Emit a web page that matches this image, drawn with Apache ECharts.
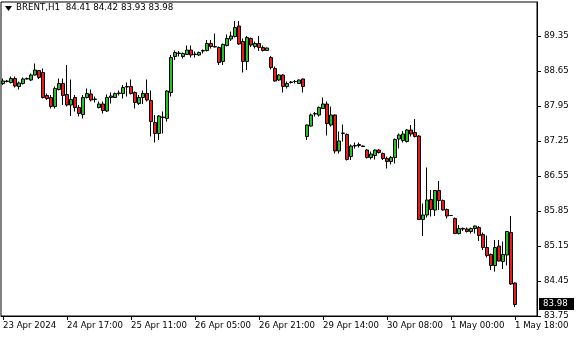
<!DOCTYPE html>
<html>
<head>
<meta charset="utf-8">
<script src="https://cdn.jsdelivr.net/npm/echarts@6/dist/echarts.min.js"></script>
<style>html,body{margin:0;padding:0;background:#fff}#c{width:580px;height:340px}</style>
</head>
<body>
<div id="c"></div>
<script>
const symbolTitle = 'BRENT,H1  84.41 84.42 83.93 83.98';
const xTickLabels = ['23 Apr 2024','24 Apr 17:00','25 Apr 11:00','26 Apr 05:00','26 Apr 21:00','29 Apr 14:00','30 Apr 08:00','1 May 00:00','1 May 18:00'];
const yTickValues = [83.75,84.45,85.15,85.85,86.55,87.25,87.95,88.65,89.35];
const opens  = [88.40,88.44,88.42,88.50,88.34,88.40,88.49,88.47,88.57,88.66,88.62,88.16,88.12,87.94,88.28,88.40,88.18,87.97,88.12,87.92,87.78,88.12,88.19,88.08,87.92,87.99,87.85,88.12,88.12,88.20,88.20,88.33,88.34,88.22,88.00,88.12,88.20,88.06,87.62,87.40,87.72,87.70,88.22,88.94,89.00,88.94,88.98,89.07,88.98,88.97,89.05,89.06,89.20,89.13,89.12,88.84,89.16,89.29,89.34,89.55,89.24,88.84,89.30,89.14,89.20,89.12,89.06,88.92,88.70,88.47,88.57,88.34,88.42,88.44,88.40,88.49,87.34,87.55,87.79,87.77,87.90,87.99,87.57,87.77,87.05,87.40,87.38,86.94,87.15,87.16,87.15,87.07,86.92,86.96,87.07,87.00,86.90,86.84,86.92,87.29,87.26,87.24,87.47,87.42,87.35,85.68,85.77,86.08,85.87,86.26,86.06,85.88,85.76,85.70,85.40,85.49,85.49,85.44,85.50,85.52,85.38,85.12,84.98,84.76,85.15,84.84,84.97,85.42,84.41];
const highs  = [88.50,88.47,88.54,88.54,88.44,88.52,88.52,88.60,88.80,88.67,88.70,88.20,88.17,88.34,88.50,88.50,88.77,88.48,88.17,87.97,88.17,88.30,88.28,88.14,88.04,88.04,88.18,88.22,88.22,88.26,88.37,88.42,88.48,88.24,88.17,88.26,88.48,88.26,87.77,87.77,87.84,88.27,88.97,89.06,89.05,89.02,89.16,89.16,89.04,89.04,89.08,89.27,89.27,89.40,89.14,89.20,89.38,89.44,89.65,89.65,89.30,89.35,89.32,89.24,89.35,89.16,89.12,88.95,88.74,88.59,88.59,88.44,88.45,88.47,88.48,88.50,87.58,87.80,87.83,87.94,88.12,88.04,87.94,87.78,87.44,87.58,87.40,87.18,87.22,87.22,87.16,87.09,87.04,87.08,87.09,87.02,86.94,86.95,87.30,87.40,87.45,87.49,87.57,87.69,87.37,86.00,86.72,86.27,86.27,86.45,86.08,85.90,85.77,85.72,85.57,85.52,85.52,85.52,85.56,85.55,85.42,85.36,85.00,85.27,85.27,85.24,85.45,85.75,84.42];
const lows   = [88.37,88.42,88.40,88.32,88.28,88.38,88.48,88.45,88.56,88.49,88.10,88.07,87.90,87.90,88.26,87.97,87.94,87.75,87.84,87.74,87.70,88.10,88.04,88.02,87.90,87.80,87.83,88.00,88.11,88.16,88.10,88.14,88.18,87.90,87.97,87.99,88.04,87.34,87.22,87.27,87.40,87.64,88.14,88.87,88.94,88.90,88.97,88.92,88.92,88.95,89.00,89.04,89.10,89.12,88.77,88.77,89.14,89.25,89.32,89.17,88.62,88.67,89.13,89.10,89.05,89.04,89.05,88.68,88.44,88.45,88.22,88.30,88.40,88.40,88.39,88.22,87.27,87.54,87.74,87.74,87.89,87.36,87.54,87.00,87.00,87.24,86.86,86.87,87.10,87.12,87.13,86.90,86.88,86.88,87.00,86.87,86.70,86.78,86.80,87.10,87.22,87.22,87.34,87.32,85.67,85.35,85.72,85.74,85.75,85.87,85.86,85.70,85.75,85.39,85.38,85.45,85.42,85.40,85.40,85.25,85.07,84.92,84.67,84.64,84.84,84.69,84.76,84.37,83.93];
const closes = [88.45,88.45,88.50,88.35,88.41,88.49,88.50,88.57,88.67,88.52,88.12,88.10,87.94,88.30,88.40,88.16,87.97,88.08,87.92,87.80,88.12,88.20,88.07,88.09,87.99,87.86,88.12,88.15,88.20,88.21,88.32,88.34,88.20,88.02,88.12,88.20,88.07,87.64,87.40,87.75,87.73,88.25,88.92,89.02,89.01,89.00,89.07,88.97,88.99,89.02,89.06,89.20,89.14,89.14,88.82,89.18,89.30,89.35,89.52,89.19,88.84,89.32,89.17,89.20,89.12,89.06,89.11,88.72,88.45,88.57,88.34,88.40,88.43,88.44,88.47,88.34,87.57,87.77,87.80,87.92,87.99,87.60,87.77,87.05,87.25,87.41,86.88,87.15,87.16,87.18,87.14,86.92,86.99,87.07,87.02,86.90,86.84,86.92,87.28,87.37,87.39,87.47,87.39,87.34,85.68,85.77,86.07,85.88,86.26,86.06,85.87,85.75,85.76,85.40,85.50,85.50,85.44,85.50,85.55,85.36,85.12,84.96,84.76,85.12,84.85,84.98,85.44,84.39,83.98];

const SLOTS = 134;      // bars plus the empty right margin
const TICK_STEP = 16;   // bars between time labels
const cats = [];
for (let i = 0; i < SLOTS; i++) cats.push(String(i));
const candles = opens.map((o, i) => [o, closes[i], lows[i], highs[i]]);

const FONT = 'DejaVu Sans';
const chart = echarts.init(document.getElementById('c'), null, {renderer: 'canvas'});
const showTick = (idx) => idx % TICK_STEP === 0 && idx / TICK_STEP < xTickLabels.length;

chart.setOption({
  animation: false,
  backgroundColor: '#ffffff',
  grid: {left: 1, top: 2, width: 536, height: 314, show: true, borderColor: '#000', borderWidth: 1, backgroundColor: 'transparent'},
  xAxis: {
    type: 'category', data: cats, boundaryGap: true,
    axisLine: {show: true, lineStyle: {color: '#000', width: 1}},
    axisTick: {show: true, interval: (idx) => showTick(idx), alignWithLabel: true, length: 4, lineStyle: {color: '#000'}},
    axisLabel: {interval: (idx) => showTick(idx), formatter: (v, idx) => xTickLabels[idx / TICK_STEP] || '',
      align: 'left', margin: 5, color: '#000', fontFamily: FONT, fontSize: 8.6},
    splitLine: {show: false}
  },
  yAxis: {
    type: 'value', position: 'right', min: 83.75, max: 90.03, scale: true,
    axisLine: {show: true, onZero: false, lineStyle: {color: '#000', width: 1}},
    axisTick: {show: true, length: 4, lineStyle: {color: '#000'}, customValues: yTickValues},
    axisLabel: {show: true, margin: 7, color: '#000', fontFamily: FONT, fontSize: 8.6,
      customValues: yTickValues, formatter: (v) => v.toFixed(2)},
    splitLine: {show: false}
  },
  series: [{
    type: 'candlestick', data: candles, barWidth: 3,
    itemStyle: {color: '#22c322', color0: '#f01818', borderColor: '#000', borderColor0: '#000', borderColorDoji: '#000', borderWidth: 1}
  }]
});

const lastClose = closes[closes.length - 1];
const ty = chart.convertToPixel({yAxisIndex: 0}, lastClose);
chart.setOption({
  graphic: [
    {type: 'polygon', shape: {points: [[5, 6], [12, 6], [8.5, 11]]}, style: {fill: '#000'}},
    {type: 'text', left: 16, top: 3, style: {text: symbolTitle, fill: '#000', font: '8.7px "DejaVu Sans"'}},
    {type: 'rect', shape: {x: 539, y: Math.round(ty) - 6, width: 35, height: 12}, style: {fill: '#000'}, z: 100},
    {type: 'text', x: 543, y: Math.round(ty), style: {text: lastClose.toFixed(2), fill: '#fff', font: '8.6px "DejaVu Sans"', verticalAlign: 'middle'}, z: 101}
  ]
});
</script>
</body>
</html>
